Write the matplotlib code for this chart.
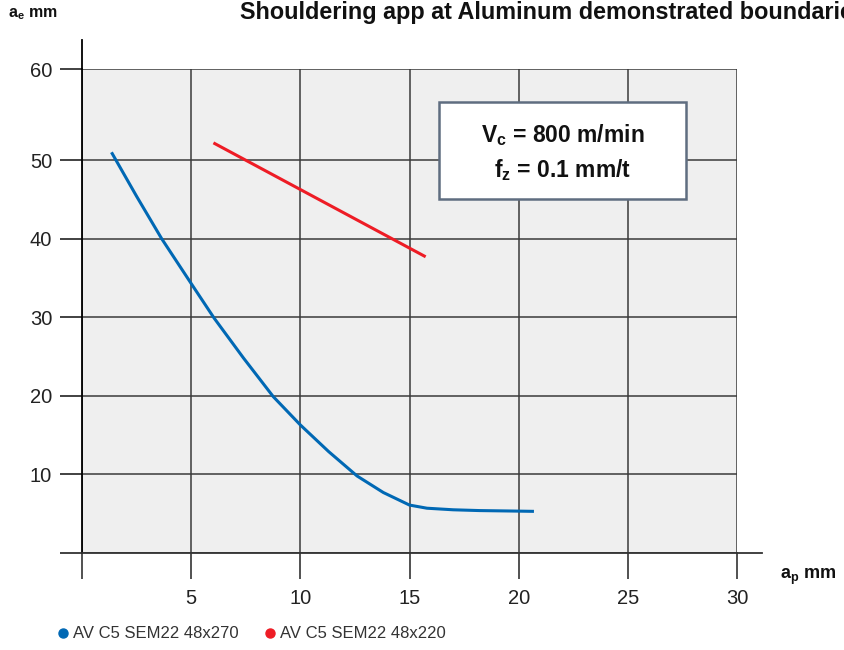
import matplotlib.pyplot as plt
from matplotlib.lines import Line2D
from matplotlib.patches import Rectangle

plt.rcParams['font.family'] = ['Liberation Sans', 'DejaVu Sans']
plt.rcParams['mathtext.fontset'] = 'custom'
plt.rcParams['mathtext.rm'] = 'Liberation Sans'
plt.rcParams['mathtext.bf'] = 'Liberation Sans:bold'

# blue curve: AV C5 SEM22 48x270
ap_270 = [1.35, 2.5, 3.65, 5.0, 6.05, 7.4, 8.76, 10.0, 11.3, 12.6, 13.8, 15.0, 15.8, 17.0, 18.2, 19.5, 20.7]
ae_270 = [51.0, 45.4, 40.0, 34.3, 29.9, 24.8, 19.9, 16.3, 12.9, 9.8, 7.7, 6.1, 5.7, 5.5, 5.4, 5.35, 5.3]
# red line: AV C5 SEM22 48x220
ap_220 = [6.02, 15.74]
ae_220 = [52.2, 37.7]

x_ticks = [0, 5, 10, 15, 20, 25, 30]
x_labels = ['', '5', '10', '15', '20', '25', '30']
y_top = 61.6  # top edge of the grid, labelled "60" in the original
y_ticks = [0, 10, 20, 30, 40, 50, y_top]
y_labels = ['', '10', '20', '30', '40', '50', '60']

blue = '#0068b4'
red = '#ee1c25'

fig = plt.figure(figsize=(8.44, 6.5), dpi=100)
ax = fig.add_axes([82 / 844, 97 / 650, 655 / 844, 484 / 650])
ax.set_facecolor('#efefef')

ax.plot(ap_270, ae_270, color=blue, lw=2.2, solid_capstyle='butt', zorder=3)
ax.plot(ap_220, ae_220, color=red, lw=2.2, solid_capstyle='butt', zorder=3)

ax.set_xlim(0, 30)
ax.set_ylim(0, y_top)
ax.set_xticks(x_ticks)
ax.set_xticklabels(x_labels)
ax.set_yticks(y_ticks)
ax.set_yticklabels(y_labels)
ax.tick_params(axis='x', length=19, width=1.1, color='#222222', pad=7, labelsize=14.5, labelcolor='#222222')
ax.tick_params(axis='y', length=16, width=1.3, color='#333333', pad=5.5, labelsize=14.5, labelcolor='#222222')
ax.grid(True, color='#3a3a3a', lw=1.1)
ax.set_axisbelow(True)
for s in ['top', 'right']:
    ax.spines[s].set_visible(False)
ax.spines['left'].set_linewidth(1.3)
ax.spines['bottom'].set_linewidth(1.3)
ax.spines['bottom'].set_color('#333333')

# axis extensions beyond the plot area
ax.add_line(Line2D([0, 0], [1, 1.06], transform=ax.transAxes, color='black', lw=1.3, clip_on=False))
ax.add_line(Line2D([1, 1.038], [0, 0], transform=ax.transAxes, color='#333333', lw=1.3, clip_on=False))

# parameter box
ax.add_patch(Rectangle((0.545, 0.731), 0.377, 0.2, transform=ax.transAxes,
                       facecolor='white', edgecolor='#5f6d80', lw=1.8, zorder=4))
ax.text(0.7335, 0.828, 'V$_\\mathbf{c}$ = 800 m/min\nf$_\\mathbf{z}$ = 0.1 mm/t',
        transform=ax.transAxes, ha='center', va='center', fontsize=16.5,
        fontweight='bold', linespacing=1.45, color='#111111', zorder=5)

fig.text(240 / 844, 1 - 13 / 650, 'Shouldering app at Aluminum demonstrated boundaries',
         ha='left', va='center', fontsize=16.8, fontweight='bold', color='#111111')
fig.text(8 / 844, 1 - 14 / 650, 'a$_\\mathbf{e}$ mm', ha='left', va='center',
         fontsize=11.5, fontweight='bold', color='#111111')
fig.text(780 / 844, 1 - 577 / 650, 'a$_\\mathbf{p}$ mm', ha='left', va='center',
         fontsize=13, fontweight='bold', color='#111111')

handles = [Line2D([], [], color=blue, marker='o', ls='', markersize=6.5),
           Line2D([], [], color=red, marker='o', ls='', markersize=6.5)]
fig.legend(handles, ['AV C5 SEM22 48x270', 'AV C5 SEM22 48x220'], loc='center left',
           bbox_to_anchor=(38 / 844, 1 - 634 / 650), ncol=2, frameon=False, fontsize=12,
           handletextpad=0.0, columnspacing=1.3, handlelength=1.2, labelcolor='#333333')

fig.savefig('out.png', dpi=100)
